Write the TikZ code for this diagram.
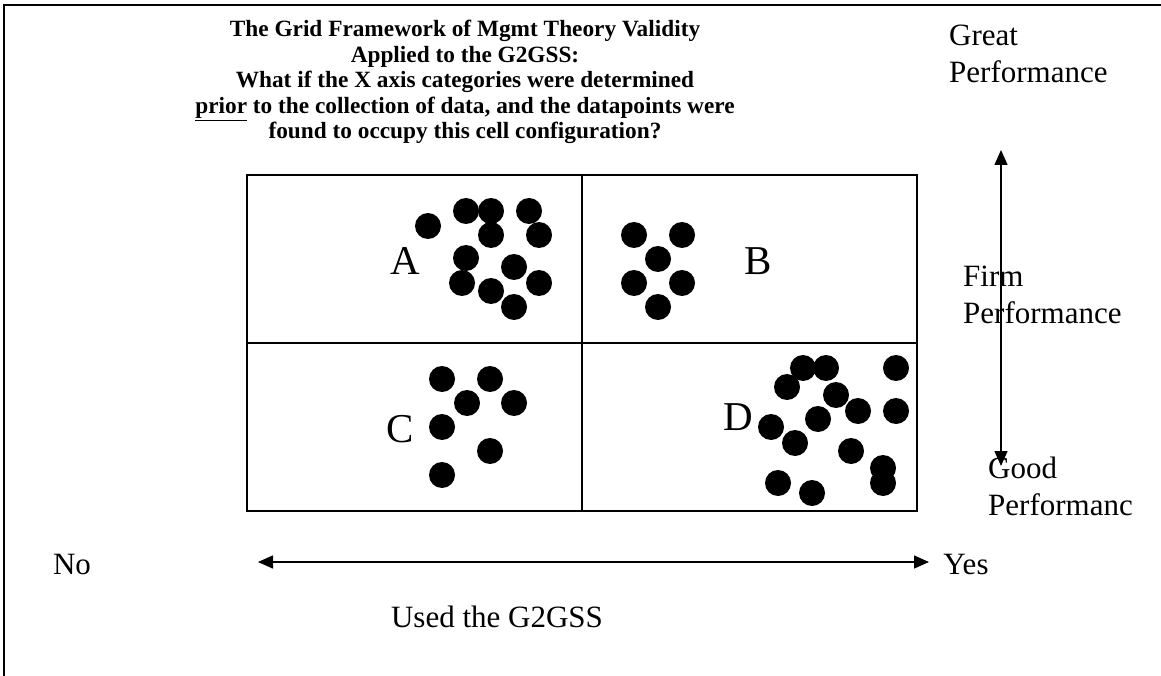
\documentclass[tikz,border=0pt]{standalone}
\usepackage{fontspec}
\setmainfont{Liberation Serif}
\usetikzlibrary{positioning}
\usetikzlibrary{arrows.meta}
\tikzstyle{dot}=[circle,fill=black,minimum size=26pt,inner sep=0pt]
\tikzstyle{cell}=[draw,line width=1.5pt,minimum width=335pt,minimum height=168pt,inner sep=0pt]
\tikzstyle{letter}=[font=\fontsize{41}{41}\selectfont]
\tikzstyle{axistext}=[font=\fontsize{31}{37}\selectfont,align=left,anchor=west,inner sep=0pt]
\tikzstyle{axis}=[draw,line width=1.5pt,{Triangle[length=15pt,width=13pt]}-{Triangle[length=15pt,width=13pt]}]

\begin{document}
\begin{tikzpicture}[x=1pt,y=-1pt]
    \useasboundingbox (0,0) rectangle (1161,676);
    % frame
    \draw[line width=2pt] (4,676) -- (4,5) -- (1161,5);

    % title
    \node[font=\fontsize{23.3}{25.5}\selectfont\bfseries,align=center,anchor=north] (title) at (465,17)
        {The Grid Framework of Mgmt Theory Validity\\
         Applied to the G2GSS:\\
         What if the X axis categories were determined\\
         \underline{prior} to the collection of data, and the datapoints were\\
         found to occupy this cell configuration?};

    % the four cells
    \foreach \pos/\name in {{(414.5,259)/cellA}, {(749.5,259)/cellB}, {(414.5,427)/cellC}, {(749.5,427)/cellD}}
        \node[cell] (\name) at \pos {};

    % cell letters
    \foreach \pos/\name/\text in {{(405,261)/A/A}, {(758,261)/B/B}, {(400,429)/C/C}, {(738,417)/D/D}}
        \node[letter] (\name) at \pos {\text};

    % datapoints
    \foreach \pos/\name in {{(428,226)/a1}, {(466,211)/a2}, {(491,211)/a3}, {(529,211)/a4},
        {(491,235)/a5}, {(539,235)/a6}, {(466,258)/a7}, {(514,267)/a8},
        {(462,283)/a9}, {(491,291)/a10}, {(539,283)/a11}, {(514,307)/a12}}
        \node[dot] (\name) at \pos {};
    \foreach \pos/\name in {{(634,235)/b1}, {(682,235)/b2}, {(658,259)/b3},
        {(634,283)/b4}, {(682,283)/b5}, {(658,307)/b6}}
        \node[dot] (\name) at \pos {};
    \foreach \pos/\name in {{(442,379)/c1}, {(490,379)/c2}, {(467,403)/c3}, {(514,403)/c4},
        {(442,427)/c5}, {(490,451)/c6}, {(442,475)/c7}}
        \node[dot] (\name) at \pos {};
    \foreach \pos/\name in {{(803,368)/d1}, {(826,368)/d2}, {(896,368)/d3}, {(787,387)/d4},
        {(836,395)/d5}, {(858,411)/d6}, {(896,411)/d7}, {(818,419)/d8},
        {(771,427)/d9}, {(795,443)/d10}, {(851,451)/d11}, {(883,468)/d12},
        {(883,483)/d13}, {(778,483)/d14}, {(812,493)/d15}}
        \node[dot] (\name) at \pos {};

    % performance axis
    \node[axistext] (great) at (949,54) {Great\\Performance};
    \node[axistext] (firm) at (963,295) {Firm\\Performance};
    \node[axistext] (good) at (988,486) {Good\\Performanc};
    \coordinate (top) at (1001,150);
    \coordinate (bottom) at (1001,466);
    \draw[axis] (top) -- (bottom);

    % G2GSS axis
    \node[axistext,anchor=center] (no) at (72,564) {No};
    \node[axistext,anchor=center] (yes) at (966,564) {Yes};
    \node[axistext,anchor=center] (used) at (497,617) {Used the G2GSS};
    \coordinate (left) at (258,562);
    \coordinate (right) at (929,562);
    \draw[axis] (left) -- (right);
\end{tikzpicture}
\end{document}
